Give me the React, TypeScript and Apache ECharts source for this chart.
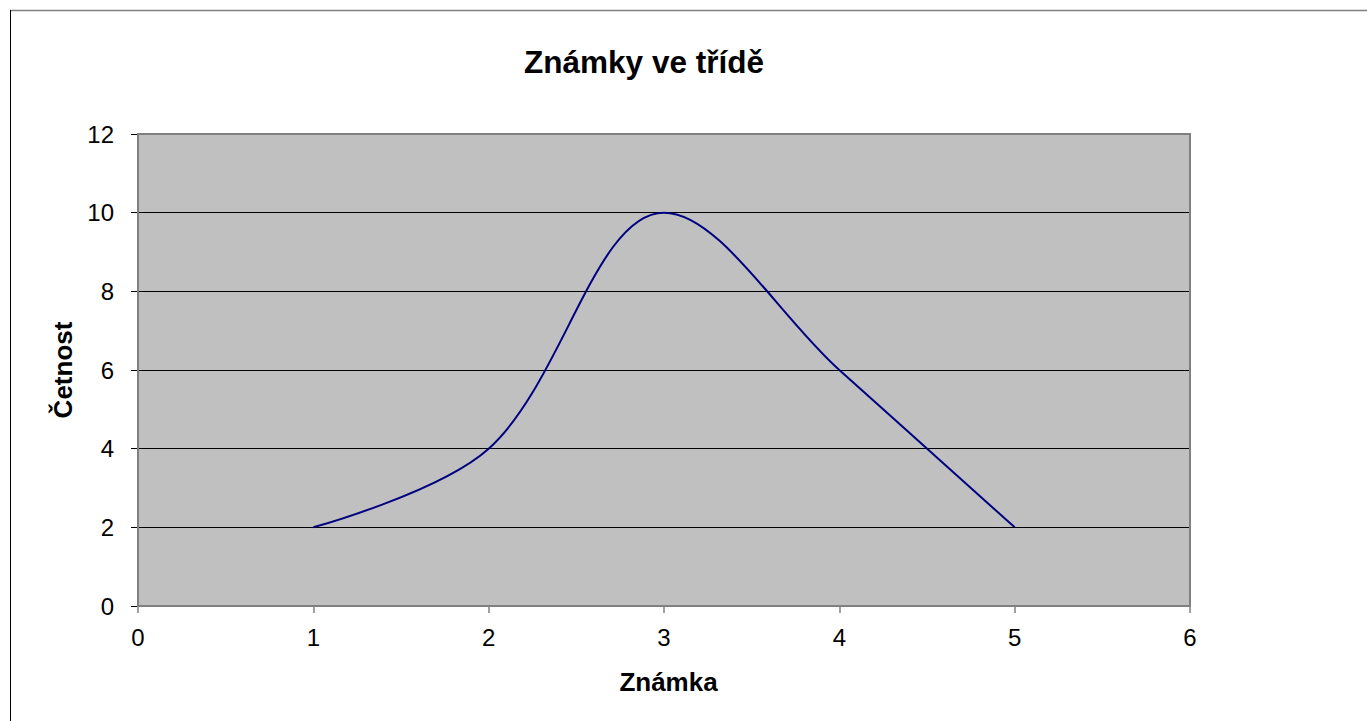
import React, { useEffect, useRef } from "react";
import * as echarts from "echarts";

const chartTitle = "Známky ve třídě";
const xAxisName = "Známka";
const yAxisName = "Četnost";
const grades = [1, 2, 3, 4, 5];
const counts = [2, 4, 10, 6, 2];

export default function App() {
  const ref = useRef<HTMLDivElement>(null);
  useEffect(() => {
    if (!ref.current) return;
    const chart = echarts.init(ref.current, undefined, { renderer: "svg" });
    const font = "'Liberation Sans', Arial, sans-serif";
    chart.setOption({
      animation: false,
      backgroundColor: "#ffffff",
      textStyle: { fontFamily: font },
      title: {
        text: chartTitle,
        left: 639,
        top: 41,
        textAlign: "center",
        textStyle: { fontSize: 31.5, fontWeight: "bold", color: "#000", fontFamily: font },
      },
      graphic: [
        { type: "line", shape: { x1: 10, y1: 10.5, x2: 1367, y2: 10.5 }, style: { stroke: "#808080", lineWidth: 1.5 } },
        { type: "line", shape: { x1: 10.5, y1: 10, x2: 10.5, y2: 721 }, style: { stroke: "#000000", lineWidth: 1 } },
        { type: "rect", shape: { x: 138, y: 134, width: 1052, height: 472 }, style: { fill: "none", stroke: "#808080", lineWidth: 2 }, z: 1 },
      ],
      grid: {
        left: 138,
        top: 134,
        width: 1052,
        height: 472,
        show: true,
        backgroundColor: "#C0C0C0",
        borderWidth: 0,
      },
      xAxis: {
        type: "value",
        min: 0,
        max: 6,
        interval: 1,
        name: xAxisName,
        nameLocation: "middle",
        nameGap: 63,
        nameTextStyle: { fontSize: 26, fontWeight: "bold", color: "#000", fontFamily: font, padding: [0, 0, 0, 9] },
        axisLine: { show: true, onZero: false, lineStyle: { color: "#000", width: 1.5 } },
        axisTick: { show: true, length: 7, lineStyle: { color: "#808080", width: 1.5 } },
        axisLabel: { fontSize: 24, color: "#000", margin: 19, fontFamily: font },
        splitLine: { show: false },
      },
      yAxis: {
        type: "value",
        min: 0,
        max: 12,
        interval: 2,
        name: yAxisName,
        nameLocation: "middle",
        nameGap: 62,
        nameRotate: 90,
        nameTextStyle: { fontSize: 26, fontWeight: "bold", color: "#000", fontFamily: font },
        axisLine: { show: true, onZero: false, lineStyle: { color: "#000", width: 1.5 } },
        axisTick: { show: true, length: 7, lineStyle: { color: "#000", width: 1 } },
        axisLabel: { fontSize: 24, color: "#000", margin: 24, fontFamily: font },
        splitLine: { show: true, lineStyle: { color: "#000", width: 1 } },
      },
      series: [
        {
          type: "line",
          data: grades.map((g, i) => [g, counts[i]]),
          smooth: 0.35,
          showSymbol: false,
          lineStyle: { color: "#000080", width: 2 },
          z: 3,
        },
      ],
    });
    return () => chart.dispose();
  }, []);
  return (
    <div
      ref={ref}
      style={{ position: "fixed", left: 0, top: 0, width: 1367, height: 721 }}
    />
  );
}
